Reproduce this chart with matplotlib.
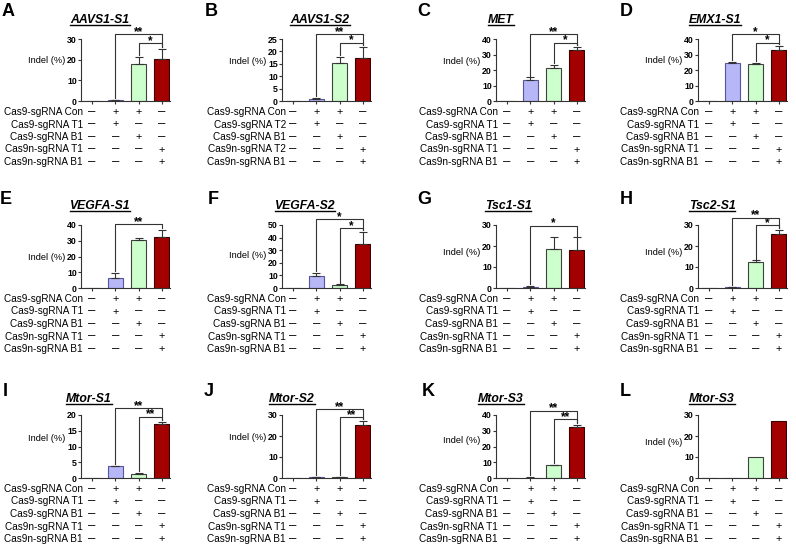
import matplotlib
matplotlib.use("Agg")
import matplotlib.pyplot as plt
from matplotlib.lines import Line2D
from matplotlib import transforms

plt.rcParams['font.family'] = ['Liberation Sans', 'DejaVu Sans']

# ---------------- data ----------------
letters = list("ABCDEFGHIJKL")
titles = ["AAVS1-S1", "AAVS1-S2", "MET", "EMX1-S1",
          "VEGFA-S1", "VEGFA-S2", "Tsc1-S1", "Tsc2-S1",
          "Mtor-S1", "Mtor-S2", "Mtor-S3", "Mtor-S3"]

vals_A = [0, 0.5, 17.8, 20.2];  err_A = [0, 0.2, 3.5, 5.0]
vals_B = [0, 0.8, 15.3, 17.5];  err_B = [0, 0.3, 2.4, 4.3]
vals_C = [0, 13.8, 21.3, 32.7]; err_C = [0, 1.4, 2.0, 2.0]
vals_D = [0, 24.3, 24.0, 33.0]; err_D = [0, 0.7, 0.4, 2.8]
vals_E = [0, 6.3, 30.7, 32.3];  err_E = [0, 3.2, 1.3, 4.5]
vals_F = [0, 9.8, 2.0, 35.0];   err_F = [0, 2.2, 0.8, 9.5]
vals_G = [0, 0.6, 18.8, 18.3];  err_G = [0, 0.3, 5.3, 5.8]
vals_H = [0, 0.3, 12.6, 25.6];  err_H = [0, 0.1, 0.5, 2.0]
vals_I = [0, 3.8, 1.3, 17.3];   err_I = [0, 0.05, 0.2, 0.6]
vals_J = [0, 0.3, 0.3, 25.2];   err_J = [0, 0.1, 0.1, 2.0]
vals_K = [0, 0.3, 8.1, 32.5];   err_K = [0, 0.1, 0.3, 1.3]
vals_L = [0, 0.2, 10.0, 27.0];  err_L = [0, 0, 0, 0]

values = [vals_A, vals_B, vals_C, vals_D, vals_E, vals_F,
          vals_G, vals_H, vals_I, vals_J, vals_K, vals_L]
errors = [err_A, err_B, err_C, err_D, err_E, err_F,
          err_G, err_H, err_I, err_J, err_K, err_L]

ymax = [30, 25, 40, 40, 40, 50, 30, 30, 20, 30, 40, 30]
ystep = [10, 5, 10, 10, 10, 10, 10, 10, 5, 10, 10, 10]

# significance brackets: (bar i, bar j, height, label)
brackets = [
    [(1, 3, 32.3, '**'), (2, 3, 27.9, '*')],
    [(1, 3, 26.9, '**'), (2, 3, 23.5, '*')],
    [(1, 3, 43.2, '**'), (2, 3, 37.6, '*')],
    [(1, 3, 43.3, '*'), (2, 3, 37.6, '*')],
    [(1, 3, 40.6, '**')],
    [(1, 3, 54.6, '*'), (2, 3, 47.3, '*')],
    [(1, 3, 29.7, '*')],
    [(1, 3, 33.5, '**'), (2, 3, 29.8, '*')],
    [(1, 3, 22.1, '**'), (2, 3, 19.5, '**')],
    [(1, 3, 32.9, '**'), (2, 3, 28.9, '**')],
    [(1, 3, 42.8, '**'), (2, 3, 37.4, '**')],
    [],
]

row_labels_T1 = ["Cas9-sgRNA Con", "Cas9-sgRNA T1", "Cas9-sgRNA B1",
                 "Cas9n-sgRNA T1", "Cas9n-sgRNA B1"]
row_labels_T2 = ["Cas9-sgRNA Con", "Cas9-sgRNA T2", "Cas9-sgRNA B1",
                 "Cas9n-sgRNA T2", "Cas9n-sgRNA B1"]
marks = [["–", "+", "+", "–"],
         ["–", "+", "–", "–"],
         ["–", "–", "+", "–"],
         ["–", "–", "–", "+"],
         ["–", "–", "–", "+"]]

# ---------------- layout (pixels) ----------------
W, H = 796, 549
col_x = [81, 282, 496, 698]
row_tb = [(39, 101), (225, 288), (415, 478)]
title_dx = [19, 38, 5, 17, 19, 23, 12, 14, 8, 10, 5, 14]
title_y = [20, 206, 399]
letter_x = [2, 205, 417, 620, 0, 208, 417, 620, 3, 204, 422, 620]
letter_y = [11, 200, 392]
indel_frac = [0.65, 0.64, 0.63, 0.66, 0.49, 0.52, 0.56, 0.57, 0.63, 0.65, 0.60, 0.56]
label_dx = [2, 4, 2, 1, 2, 4, 2, 1, 2, 4, 2, 1]

fills = ["white", "#b7b7f7", "#ccffcc", "#a30000"]
edges = ["#333333", "#55559a", "#404040", "#3a0000"]
axcol = "#333333"

fig = plt.figure(figsize=(W / 100, H / 100), dpi=100)


def fx(x):
    return x / W


def fy(y):
    return 1 - y / H


title_texts = []
for k in range(12):
    r, c = divmod(k, 4)
    left = col_x[c]
    top, bot = row_tb[r]
    ax = fig.add_axes([fx(left), fy(bot), 89 / W, (bot - top) / H])
    xs = list(range(4))
    v = values[k]
    e = errors[k]
    ax.bar(xs, v, width=0.65, color=fills, edgecolor=edges, linewidth=0.8, zorder=2)
    if any(e):
        ax.errorbar(xs[1:], v[1:], yerr=[[0] * 3, e[1:]], fmt='none', ecolor=axcol,
                    elinewidth=0.8, capsize=3, capthick=0.8, zorder=3)
    ax.set_xlim(-0.47, 3.35)
    ax.set_ylim(0, ymax[k])
    ax.set_yticks(list(range(0, ymax[k] + 1, ystep[k])))
    ax.set_xticks(xs)
    ax.set_xticklabels([])
    ax.tick_params(axis='both', length=2, width=0.8, color=axcol, pad=1)
    ax.tick_params(axis='y', labelsize=6.3)
    for t in ax.get_yticklabels():
        t.set_fontweight('bold')
    for s in ['top', 'right']:
        ax.spines[s].set_visible(False)
    for s in ['left', 'bottom']:
        ax.spines[s].set_linewidth(0.8)
        ax.spines[s].set_color(axcol)

    # brackets
    gap = 0.03 * ymax[k]
    for (i, j, h, lab) in brackets[k]:
        lb = v[i] + e[i] + gap
        rb = v[j] + e[j] + gap
        ax.plot([i, i, j, j], [lb, h, h, rb], color=axcol, lw=0.8,
                clip_on=False, zorder=4)
        ax.annotate(lab, xy=((i + j) / 2, h), xytext=(0, -0.6),
                    textcoords='offset points', ha='center', va='baseline',
                    fontsize=8.5, fontweight='bold', annotation_clip=False)

    # Indel label
    fig.text(fx(left - 16), fy(bot - indel_frac[k] * (bot - top)), "Indel (%)",
             ha='right', va='center', fontsize=6.7)

    # title
    tt = fig.text(fx(left + title_dx[k]), fy(title_y[r]), titles[k],
                  ha='center', va='center', fontsize=8.8,
                  fontweight='bold', fontstyle='italic')
    title_texts.append(tt)

    # letter
    fig.text(fx(letter_x[k]), fy(letter_y[r]), letters[k], ha='left', va='center',
             fontsize=13, fontweight='bold')

    # table
    labels = row_labels_T2 if k == 1 else row_labels_T1
    trans = transforms.blended_transform_factory(ax.transData, fig.transFigure)
    for ri in range(5):
        yy = fy(bot + 11 + ri * 12.5)
        fig.text(fx(left + label_dx[k]), yy, labels[ri], ha='right', va='center',
                 fontsize=7.2)
        for ci in range(4):
            m = marks[ri][ci]
            fig.text(xs[ci], yy, m, transform=trans, ha='center',
                     va='center', fontsize=(9.5 if m == "–" else 7.8))

# underline titles
fig.canvas.draw()
renderer = fig.canvas.get_renderer()
for tt in title_texts:
    bb = tt.get_window_extent(renderer)
    yline = (bb.y0 + 1.2) / H
    fig.add_artist(Line2D([bb.x0 / W, bb.x1 / W], [yline, yline],
                          transform=fig.transFigure, color='black', lw=1.0))

fig.savefig("out.png", dpi=100)
